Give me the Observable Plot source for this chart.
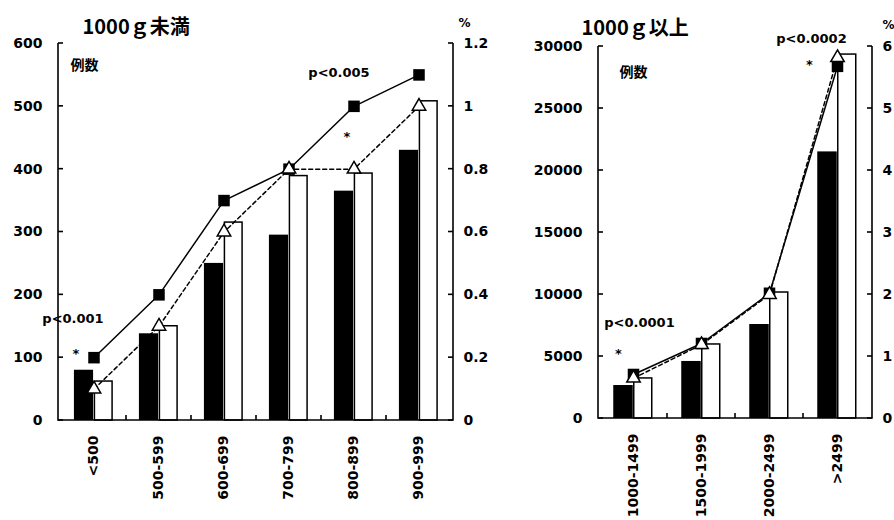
<!DOCTYPE html>
<html><head><meta charset="utf-8">
<script src="https://cdn.jsdelivr.net/npm/d3@7"></script>
<script src="https://cdn.jsdelivr.net/npm/@observablehq/plot@0.6"></script>
<style>
body{margin:0;background:#fff;}
#wrap{position:relative;width:894px;height:520px;overflow:hidden;background:#fff;}
#a{position:absolute;left:0;top:0}
#b{position:absolute;left:500px;top:0}
</style></head><body><div id="wrap"><div id="a"></div><div id="b"></div></div>
<script>
// ---- Panel A: 1000g未満 ----
const catsA = ["<500","500-599","600-699","700-799","800-899","900-999"];
const blackA = [80,138,250,295,365,430];
const whiteA = [62,150,315,389,393,508];
const sqPctA = [0.2,0.4,0.7,0.8,1.0,1.1];
const triPctA = [0.1,0.3,0.6,0.8,0.8,1.0];
const yTicksA = [0,100,200,300,400,500,600];
const pctTicksA = [0,0.2,0.4,0.6,0.8,1,1.2];
const pctLabelsA = ["0","0.2","0.4","0.6","0.8","1","1.2"];
const annA = [
  {c:"<500", y:162, dx:-21, t:"p<0.001"},
  {c:"<500", y:106, dx:-18, t:"*"},
  {c:"800-899", y:554, dx:-15, t:"p<0.005"},
  {c:"800-899", y:452, dx:-7, t:"*"}
];

// ---- Panel B: 1000g以上 ----
const catsB = ["1000-1499","1500-1999","2000-2499",">2499"];
const blackB = [2660,4600,7580,21500];
const whiteB = [3230,5970,10160,29350];
const sqPctB = [0.71,1.21,2.02,5.68];
const triPctB = [0.65,1.19,2.0,5.82];
const yTicksB = [0,5000,10000,15000,20000,25000,30000];
const pctTicksB = [0,1,2,3,4,5,6];
const pctLabelsB = ["0","1","2","3","4","5","6"];
const annB = [
  {c:"1000-1499", y:7740, dx:6, t:"p<0.0001"},
  {c:"1000-1499", y:5200, dx:-15, t:"*"},
  {c:">2499", y:30645, dx:-26, t:"p<0.0002"},
  {c:">2499", y:28500, dx:-28, t:"*"}
];

function panel(o) {
  const k = o.yMax / o.pctMax;
  const n = o.cats.length;
  const bw = (o.width - o.mL - o.mR) / n;
  const rows = o.cats.map((c, i) => ({c, black: o.black[i], white: o.white[i], sq: o.sq[i] * k, tri: o.tri[i] * k}));
  const pctMap = new Map(o.pctTicks.map((p, i) => [p * k, o.pctLabels[i]]));
  const frameMark = (index, scales, values, dim) => {
    const g = d3.create("svg:g").attr("stroke", "black").attr("stroke-width", 1.6).attr("fill", "none");
    const L = dim.marginLeft, R = dim.width - dim.marginRight, T = dim.marginTop, B = dim.height - dim.marginBottom;
    g.append("path").attr("d", `M${L},${T}V${B}H${R}V${T}`);
    for (const t of o.yTicks) { const y = scales.y(t); g.append("line").attr("x1", L).attr("x2", L + 5).attr("y1", y).attr("y2", y); }
    for (const p of o.pctTicks) { const y = scales.y(p * k); g.append("line").attr("x1", R - 5).attr("x2", R).attr("y1", y).attr("y2", y); }
    for (let i = 1; i < n; i++) { const x = scales.x(o.cats[i]); g.append("line").attr("x1", x).attr("x2", x).attr("y1", B - 5).attr("y2", B); }
    return g.node();
  };
  const annTexts = o.ann.map(a => Plot.text([a], {x: "c", y: "y", text: "t", dx: a.dx, fontSize: 13, fontWeight: "bold"}));
  return Plot.plot({
    width: o.width, height: 520,
    marginLeft: o.mL, marginRight: o.mR, marginTop: o.mT, marginBottom: o.mB,
    style: {fontFamily: "DejaVu Sans", fontWeight: "bold", fontSize: "13px", background: "white", overflow: "visible", color: "black"},
    x: {domain: o.cats, padding: 0, label: null, axis: null},
    y: {domain: [0, o.yMax], label: null, axis: null},
    marks: [
      Plot.barY(rows, {x: "c", y: "black", fill: "black", insetLeft: bw / 2 - 20, insetRight: bw / 2}),
      Plot.barY(rows, {x: "c", y: "white", fill: "white", stroke: "black", strokeWidth: 1.5, insetLeft: bw / 2 + 0.5, insetRight: bw / 2 - 19}),
      frameMark,
      Plot.line(rows, {x: "c", y: "sq", stroke: "black", strokeWidth: 1.5}),
      Plot.line(rows, {x: "c", y: "tri", stroke: "black", strokeWidth: 1.5, strokeDasharray: "4,3"}),
      Plot.dot(rows, {x: "c", y: "sq", symbol: "square", fill: "black", r: 6.5}),
      Plot.dot(rows, {x: "c", y: "tri", symbol: "triangle", fill: "white", stroke: "black", strokeWidth: 1.5, r: 5}),
      Plot.axisY({ticks: o.yTicks, anchor: "left", tickSize: 0, tickPadding: 16, fontSize: 14, fontWeight: "bold", label: null, tickFormat: d => String(d)}),
      Plot.axisY({ticks: o.pctTicks.map(p => p * k), anchor: "right", tickSize: 0, tickPadding: 10, fontSize: 14, fontWeight: "bold", label: null, tickFormat: d => pctMap.get(d)}),
      Plot.axisX({anchor: "bottom", tickSize: 0, tickPadding: 15, tickRotate: -90, fontSize: 14, fontWeight: "bold", label: null}),
      ...annTexts,
      Plot.text([o.title], {frameAnchor: "top-left", textAnchor: "start", dx: o.titleDx, dy: o.titleDy, fontSize: 20, fontWeight: "bold", fontFamily: "Noto Sans CJK JP"}),
      Plot.text(["例数"], {frameAnchor: "top-left", textAnchor: "start", dx: o.lblDx, dy: o.lblDy, fontSize: 14, fontWeight: "bold", fontFamily: "Noto Sans CJK JP"}),
      Plot.text(["%"], {frameAnchor: "top-right", textAnchor: "start", dx: o.pctDx, dy: o.pctDy, fontSize: 12, fontWeight: "bold"})
    ]
  });
}

const a = panel({cats: catsA, black: blackA, white: whiteA, sq: sqPctA, tri: triPctA, yTicks: yTicksA, pctTicks: pctTicksA, pctLabels: pctLabelsA,
  yMax: 600, pctMax: 1.2, width: 500, mL: 58, mR: 47, mT: 43, mB: 100, ann: annA,
  title: "1000ｇ未満", titleDx: 24, titleDy: -24, lblDx: 12, lblDy: 17, pctDx: 5, pctDy: -25});
const b = panel({cats: catsB, black: blackB, white: whiteB, sq: sqPctB, tri: triPctB, yTicks: yTicksB, pctTicks: pctTicksB, pctLabels: pctLabelsB,
  yMax: 30000, pctMax: 6, width: 394, mL: 98, mR: 22, mT: 46, mB: 102, ann: annB,
  title: "1000ｇ以上", titleDx: -17, titleDy: -26, lblDx: 21, lblDy: 21, pctDx: 10, pctDy: -26});
document.getElementById("a").appendChild(a);
document.getElementById("b").appendChild(b);
</script></body></html>
